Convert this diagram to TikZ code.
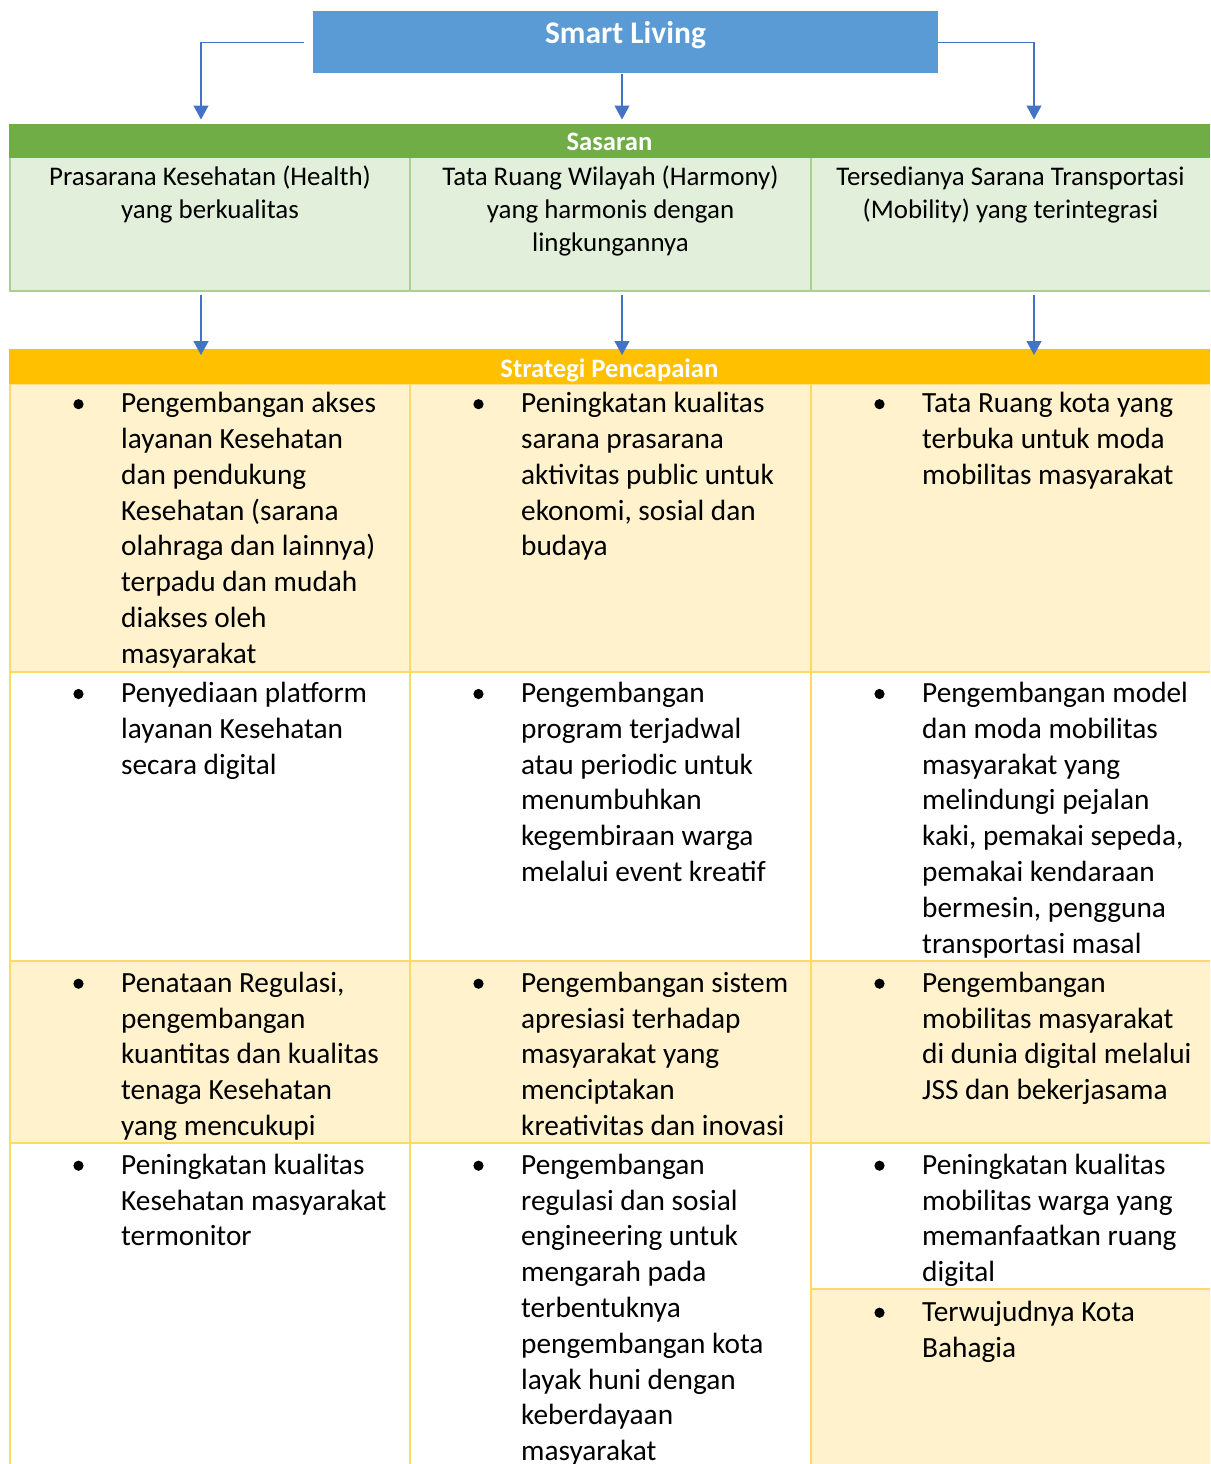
\documentclass[tikz,border=0pt]{standalone}
\usepackage{fontspec}
\setmainfont{Carlito}
\usetikzlibrary{arrows.meta,positioning}

\definecolor{livingblue}{HTML}{5B9BD5}
\definecolor{arrowblue}{HTML}{4472C4}
\definecolor{goalgreen}{HTML}{70AD47}
\definecolor{goalfill}{HTML}{E2EFDA}
\definecolor{goalline}{HTML}{A9D08E}
\definecolor{stratgold}{HTML}{FFC000}
\definecolor{stratfill}{HTML}{FFF2CC}
\definecolor{stratline}{HTML}{FFD966}

\newcommand\titlefont{\fontsize{31.5}{38}\selectfont\bfseries}
\newcommand\barfont{\fontsize{26.6}{30}\selectfont\bfseries}
\newcommand\goalfont{\fontsize{26.9}{33.2}\selectfont}
\newcommand\itemfont{\fontsize{29.3}{35.8}\selectfont}
% fixed height of the first line, so that every cell starts on the same baseline
\newcommand\goaltop{\rule{0pt}{23.2pt}}
\newcommand\itemtop{\rule{0pt}{25.1pt}}

\begin{document}
\begin{tikzpicture}[
    x=1pt, y=-1pt,
    >={Triangle[length=14pt,width=15pt]},
    link/.style={->, draw=arrowblue, line width=1.3pt},
    bar/.style={anchor=north, inner sep=0pt, text=white, font=\barfont, minimum width=1201.3pt},
    goal/.style={anchor=north, inner sep=0pt, align=center, font=\goalfont},
    item/.style={anchor=north west, inner sep=0pt, align=left, font=\itemfont}
  ]
  \useasboundingbox (0,0) rectangle (1210,1464);

  % top box
  \node[anchor=north, inner sep=0pt, fill=livingblue, text=white, font=\titlefont,
        minimum width=625pt, text height=31.9pt, text depth=30.4pt] (living) at (625.5,11) {Smart Living};

  % sasaran: green bar and the three goal cells
  \node[bar, fill=goalgreen, text height=26.7pt, text depth=7.6pt] (sasaran) at (609.4,124) {Sasaran};
  \fill[goalfill] (9.5,158.3) rectangle (1210,290.7);
  \draw[goalline, line width=2pt] (9.5,158.3) -- (9.5,290.7) -- (1210,290.7)
    (410,158.3) -- (410,290.7) (811,158.3) -- (811,290.7);

  \node[goal] (goal1) at (210,161.9) {\goaltop Prasarana Kesehatan (Health)\\yang berkualitas};
  \node[goal] (goal2) at (610.5,161.9) {\goaltop Tata Ruang Wilayah (Harmony)\\yang harmonis dengan\\lingkungannya};
  \node[goal] (goal3) at (1010.5,161.9) {\goaltop Tersedianya Sarana Transportasi\\(Mobility) yang terintegrasi};

  % strategi: orange bar and the rows below it
  \node[bar, fill=stratgold, text height=28.3pt, text depth=7pt] (strategi) at (609.4,349) {Strategi Pencapaian};
  \fill[stratfill] (10,384.3) rectangle (1210,672) (10,961) rectangle (1210,1143)
    (811,1289) rectangle (1210,1464);
  \draw[stratline, line width=2pt] (10,384.3) -- (10,1464) (410,384.3) -- (410,1464) (811,384.3) -- (811,1464)
    (10,672) -- (1210,672) (10,961) -- (1210,961) (10,1143) -- (1210,1143) (811,1289) -- (1210,1289);

  % arrows
  \foreach \x [count=\i] in {201,622,1034} {
    \coordinate (in\i) at (\x,119.5);
    \coordinate (out\i) at (\x,295);
    \coordinate (tip\i) at (\x,355);
  }
  \draw[link] ([xshift=-9pt]living.west) -| (in1);
  \draw[link] (living.south -| in2) -- (in2);
  \draw[link] (living.east) -| (in3);
  \foreach \i in {1,2,3}
    \draw[link] (out\i) -- (tip\i);

  % row 1
  \node[item] (s11) at (121,387.4) {\itemtop Pengembangan akses\\layanan Kesehatan\\dan pendukung\\Kesehatan (sarana\\olahraga dan lainnya)\\terpadu dan mudah\\diakses oleh\\masyarakat};
  \node[item] (s12) at (521,387.4) {\itemtop Peningkatan kualitas\\sarana prasarana\\aktivitas public untuk\\ekonomi, sosial dan\\budaya};
  \node[item] (s13) at (922,387.4) {\itemtop Tata Ruang kota yang\\terbuka untuk moda\\mobilitas masyarakat};

  % row 2
  \node[item] (s21) at (121,677.2) {\itemtop Penyediaan platform\\layanan Kesehatan\\secara digital};
  \node[item] (s22) at (521,677.2) {\itemtop Pengembangan\\program terjadwal\\atau periodic untuk\\menumbuhkan\\kegembiraan warga\\melalui event kreatif};
  \node[item] (s23) at (922,677.2) {\itemtop Pengembangan model\\dan moda mobilitas\\masyarakat yang\\melindungi pejalan\\kaki, pemakai sepeda,\\pemakai kendaraan\\bermesin, pengguna\\transportasi masal};

  % row 3
  \node[item] (s31) at (121,966.9) {\itemtop Penataan Regulasi,\\pengembangan\\kuantitas dan kualitas\\tenaga Kesehatan\\yang mencukupi};
  \node[item] (s32) at (521,966.9) {\itemtop Pengembangan sistem\\apresiasi terhadap\\masyarakat yang\\menciptakan\\kreativitas dan inovasi};
  \node[item] (s33) at (922,966.9) {\itemtop Pengembangan\\mobilitas masyarakat\\di dunia digital melalui\\JSS dan bekerjasama};

  % row 4
  \node[item] (s41) at (121,1148.9) {\itemtop Peningkatan kualitas\\Kesehatan masyarakat\\termonitor};
  \node[item] (s42) at (521,1148.9) {\itemtop Pengembangan\\regulasi dan sosial\\engineering untuk\\mengarah pada\\terbentuknya\\pengembangan kota\\layak huni dengan\\keberdayaan\\masyarakat};
  \node[item] (s43) at (922,1148.9) {\itemtop Peningkatan kualitas\\mobilitas warga yang\\memanfaatkan ruang\\digital};
  \node[item] (s44) at (922,1295.9) {\itemtop Terwujudnya Kota\\Bahagia};

  % bullets
  \foreach \n in {s11,s12,s13,s21,s22,s23,s31,s32,s33,s41,s42,s43,s44}
    \fill (\n.north west) ++(-42.5,16.8) circle (5.1pt);
\end{tikzpicture}
\end{document}
